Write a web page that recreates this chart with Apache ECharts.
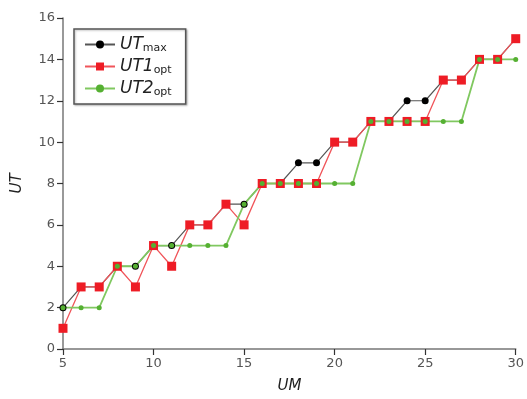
<!DOCTYPE html>
<html><head><meta charset="utf-8">
<script src="https://cdn.jsdelivr.net/npm/echarts@6/dist/echarts.min.js"></script>
<style>html,body{margin:0;padding:0;background:#fff}#c{width:527px;height:399px}</style>
</head><body><div id="c"></div>
<script>
const um = [5,6,7,8,9,10,11,12,13,14,15,16,17,18,19,20,21,22,23,24,25,26,27,28,29,30];
const utMax = [2,3,3,4,4,5,5,6,6,7,7,8,8,9,9,10,10,11,11,12,12,13,13,14,14,15];
const ut1Opt = [1,3,3,4,3,5,4,6,6,7,6,8,8,8,8,10,10,11,11,11,11,13,13,14,14,15];
const ut2Opt = [2,2,2,4,4,5,5,5,5,5,7,8,8,8,8,8,8,11,11,11,11,11,11,14,14,14];
const yTicks = [0,2,4,6,8,10,12,14,16];
const xTicks = [5,10,15,20,25,30];

const pairs = v => um.map((x,i)=>[x,v[i]]);
const font = 'DejaVu Sans';
const legendFmt = {UTmax:'{i|UT}{s|max}', UT1opt:'{i|UT1}{s|opt}', UT2opt:'{i|UT2}{s|opt}'};

const chart = echarts.init(document.getElementById('c'), null, {renderer:'canvas'});
chart.setOption({
  animation:false,
  backgroundColor:'#fff',
  grid:{left:63, right:10, top:18, bottom:49},
  xAxis:{type:'value', min:xTicks[0], max:xTicks[xTicks.length-1], interval:5,
    name:'UM', nameLocation:'middle', nameGap:30,
    nameTextStyle:{fontFamily:font, fontStyle:'italic', fontSize:15, color:'#222'},
    axisLine:{lineStyle:{color:'#777', width:1.5}},
    axisTick:{inside:false, length:6, lineStyle:{color:'#333', width:1.2}},
    axisLabel:{fontFamily:font, fontSize:13, color:'#555', margin:8},
    splitLine:{show:false}},
  yAxis:{type:'value', min:yTicks[0], max:yTicks[yTicks.length-1], interval:2,
    name:'UT', nameLocation:'middle', nameGap:38, nameRotate:90,
    nameTextStyle:{fontFamily:font, fontStyle:'italic', fontSize:15, color:'#222'},
    axisLine:{show:true, lineStyle:{color:'#777', width:1.5}},
    axisTick:{show:true, inside:false, length:6, lineStyle:{color:'#333', width:1.2}},
    axisLabel:{fontFamily:font, fontSize:13, color:'#555', margin:8},
    splitLine:{show:false}},
  legend:{orient:'vertical', left:74, top:29, itemWidth:30, itemHeight:10, itemGap:3,
    padding:[6,14,6,10], borderColor:'#555', borderWidth:1.5,
    shadowColor:'rgba(0,0,0,0.25)', shadowBlur:2, shadowOffsetX:1, shadowOffsetY:1,
    backgroundColor:'#fff',
    formatter: n => legendFmt[n],
    textStyle:{rich:{
      i:{fontFamily:font, fontStyle:'italic', fontSize:17, color:'#222', lineHeight:18},
      s:{fontFamily:font, fontSize:11, color:'#222', padding:[8,0,0,0], lineHeight:18}
    }},
    data:['UTmax','UT1opt','UT2opt']},
  series:[
    {name:'UTmax', type:'line', data:pairs(utMax), symbol:'circle', symbolSize:7,
      itemStyle:{color:'#000'}, lineStyle:{color:'#555', width:1.2}},
    {name:'UT1opt', type:'line', data:pairs(ut1Opt), symbol:'rect', symbolSize:9,
      itemStyle:{color:'#ee1c25'}, lineStyle:{color:'#f0555a', width:1.3}},
    {name:'UT2opt', type:'line', data:pairs(ut2Opt), symbol:'circle', symbolSize:5,
      itemStyle:{color:'#55b032'}, lineStyle:{color:'#80c860', width:1.8}}
  ]
});
</script></body></html>
